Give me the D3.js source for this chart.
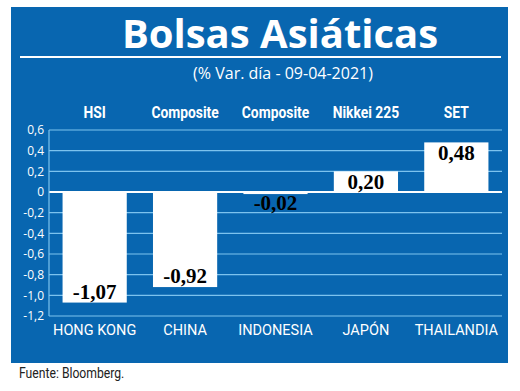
<!DOCTYPE html>
<html><head><meta charset="utf-8">
<script src="https://cdn.jsdelivr.net/npm/d3@7"></script>
<style>body{margin:0;background:#fff}svg{display:block}</style>
</head><body>
<svg id="c" width="520" height="391"></svg>
<script>
const countries = ["HONG KONG","CHINA","INDONESIA","JAPÓN","THAILANDIA"];
const indices = ["HSI","Composite","Composite","Nikkei 225","SET"];
const values = [-1.07,-0.92,-0.02,0.20,0.48];
const valueLabels = ["-1,07","-0,92","-0,02","0,20","0,48"];
const yTicks = [0.6,0.4,0.2,0,-0.2,-0.4,-0.6,-0.8,-1.0,-1.2];
const yTickLabels = ["0,6","0,4","0,2","0","-0,2","-0,4","-0,6","-0,8","-1,0","-1,2"];

const svg = d3.select("#c");
const blue = "#0866b0";
svg.append("rect").attr("x",11).attr("y",7).attr("width",497).attr("height",356).attr("fill",blue);

svg.append("text").attr("x",280).attr("y",48).attr("text-anchor","middle")
  .attr("font-family","'Open Sans', sans-serif").attr("font-weight","bold").attr("font-size",40)
  .attr("fill","#fff").text("Bolsas Asiáticas");
svg.append("line").attr("x1",20).attr("x2",501).attr("y1",57).attr("y2",57).attr("stroke","#fff").attr("stroke-width",2);
svg.append("text").attr("x",283).attr("y",79).attr("text-anchor","middle")
  .attr("font-family","'Open Sans', sans-serif").attr("font-size",16)
  .attr("fill","#fff").text("(% Var. día - 09-04-2021)");

const x = d3.scaleBand().domain(countries).range([49,502]).paddingInner(0.29).paddingOuter(0.15);
const y = d3.scaleLinear().domain([-1.2,0.6]).range([316,130]);

// gridlines
const grid = svg.append("g");
grid.selectAll("line").data(yTicks).join("line")
  .attr("x1",49).attr("x2",502).attr("y1",d=>y(d)).attr("y2",d=>y(d))
  .attr("stroke",d=>d===0?"#fff":"#7cc3ee").attr("stroke-width",d=>d===0?2:1.2);
svg.append("line").attr("x1",49).attr("x2",49).attr("y1",y(0.6)).attr("y2",y(-1.2)).attr("stroke","#7cc3ee").attr("stroke-width",1.2);

// y axis labels
const yAxis = d3.axisLeft(y).tickValues(yTicks).tickSize(0).tickPadding(5)
  .tickFormat((d,i)=>yTickLabels[i]);
const ga = svg.append("g").attr("transform","translate(49,0)").call(yAxis);
ga.select(".domain").remove();
ga.selectAll("text").attr("fill","#fff").attr("font-family","'Open Sans', sans-serif").attr("font-size",12);

// bars
svg.append("g").selectAll("rect").data(values).join("rect")
  .attr("x",(d,i)=>x(countries[i])).attr("width",x.bandwidth())
  .attr("y",d=>y(Math.max(0,d))).attr("height",d=>Math.abs(y(d)-y(0)))
  .attr("fill","#fff");

// value labels
svg.append("g").selectAll("text").data(values).join("text")
  .attr("x",(d,i)=>x(countries[i])+x.bandwidth()/2)
  .attr("y",d=> d>=0 ? y(d)+18 : (Math.abs(y(d)-y(0))<20 ? y(d)+16 : y(d)-4))
  .attr("text-anchor","middle").attr("font-family","'Liberation Serif', serif")
  .attr("font-weight","bold").attr("font-size",21).attr("fill","#000")
  .text((d,i)=>valueLabels[i]);

// index headers (condensed look)
svg.append("g").selectAll("text").data(indices).join("text")
  .attr("transform",(d,i)=>"translate("+(x(countries[i])+x.bandwidth()/2)+",118) scale(0.84,1)")
  .attr("text-anchor","middle").attr("font-family","Roboto, sans-serif")
  .attr("font-weight","bold").attr("font-size",16.5).attr("fill","#fff")
  .text(d=>d);

// country labels
const xAxis = d3.axisBottom(x).tickSize(0).tickPadding(9);
const gx = svg.append("g").attr("transform","translate(0,"+y(-1.2)+")").call(xAxis);
gx.select(".domain").remove();
gx.selectAll("text").attr("fill","#fff").attr("font-family","Roboto, sans-serif").attr("font-size",14.5);

svg.append("text").attr("transform","translate(19,378) scale(0.87,1)")
  .attr("font-family","Roboto, sans-serif").attr("font-size",14).attr("fill","#222")
  .text("Fuente: Bloomberg.");
</script>
</body></html>
